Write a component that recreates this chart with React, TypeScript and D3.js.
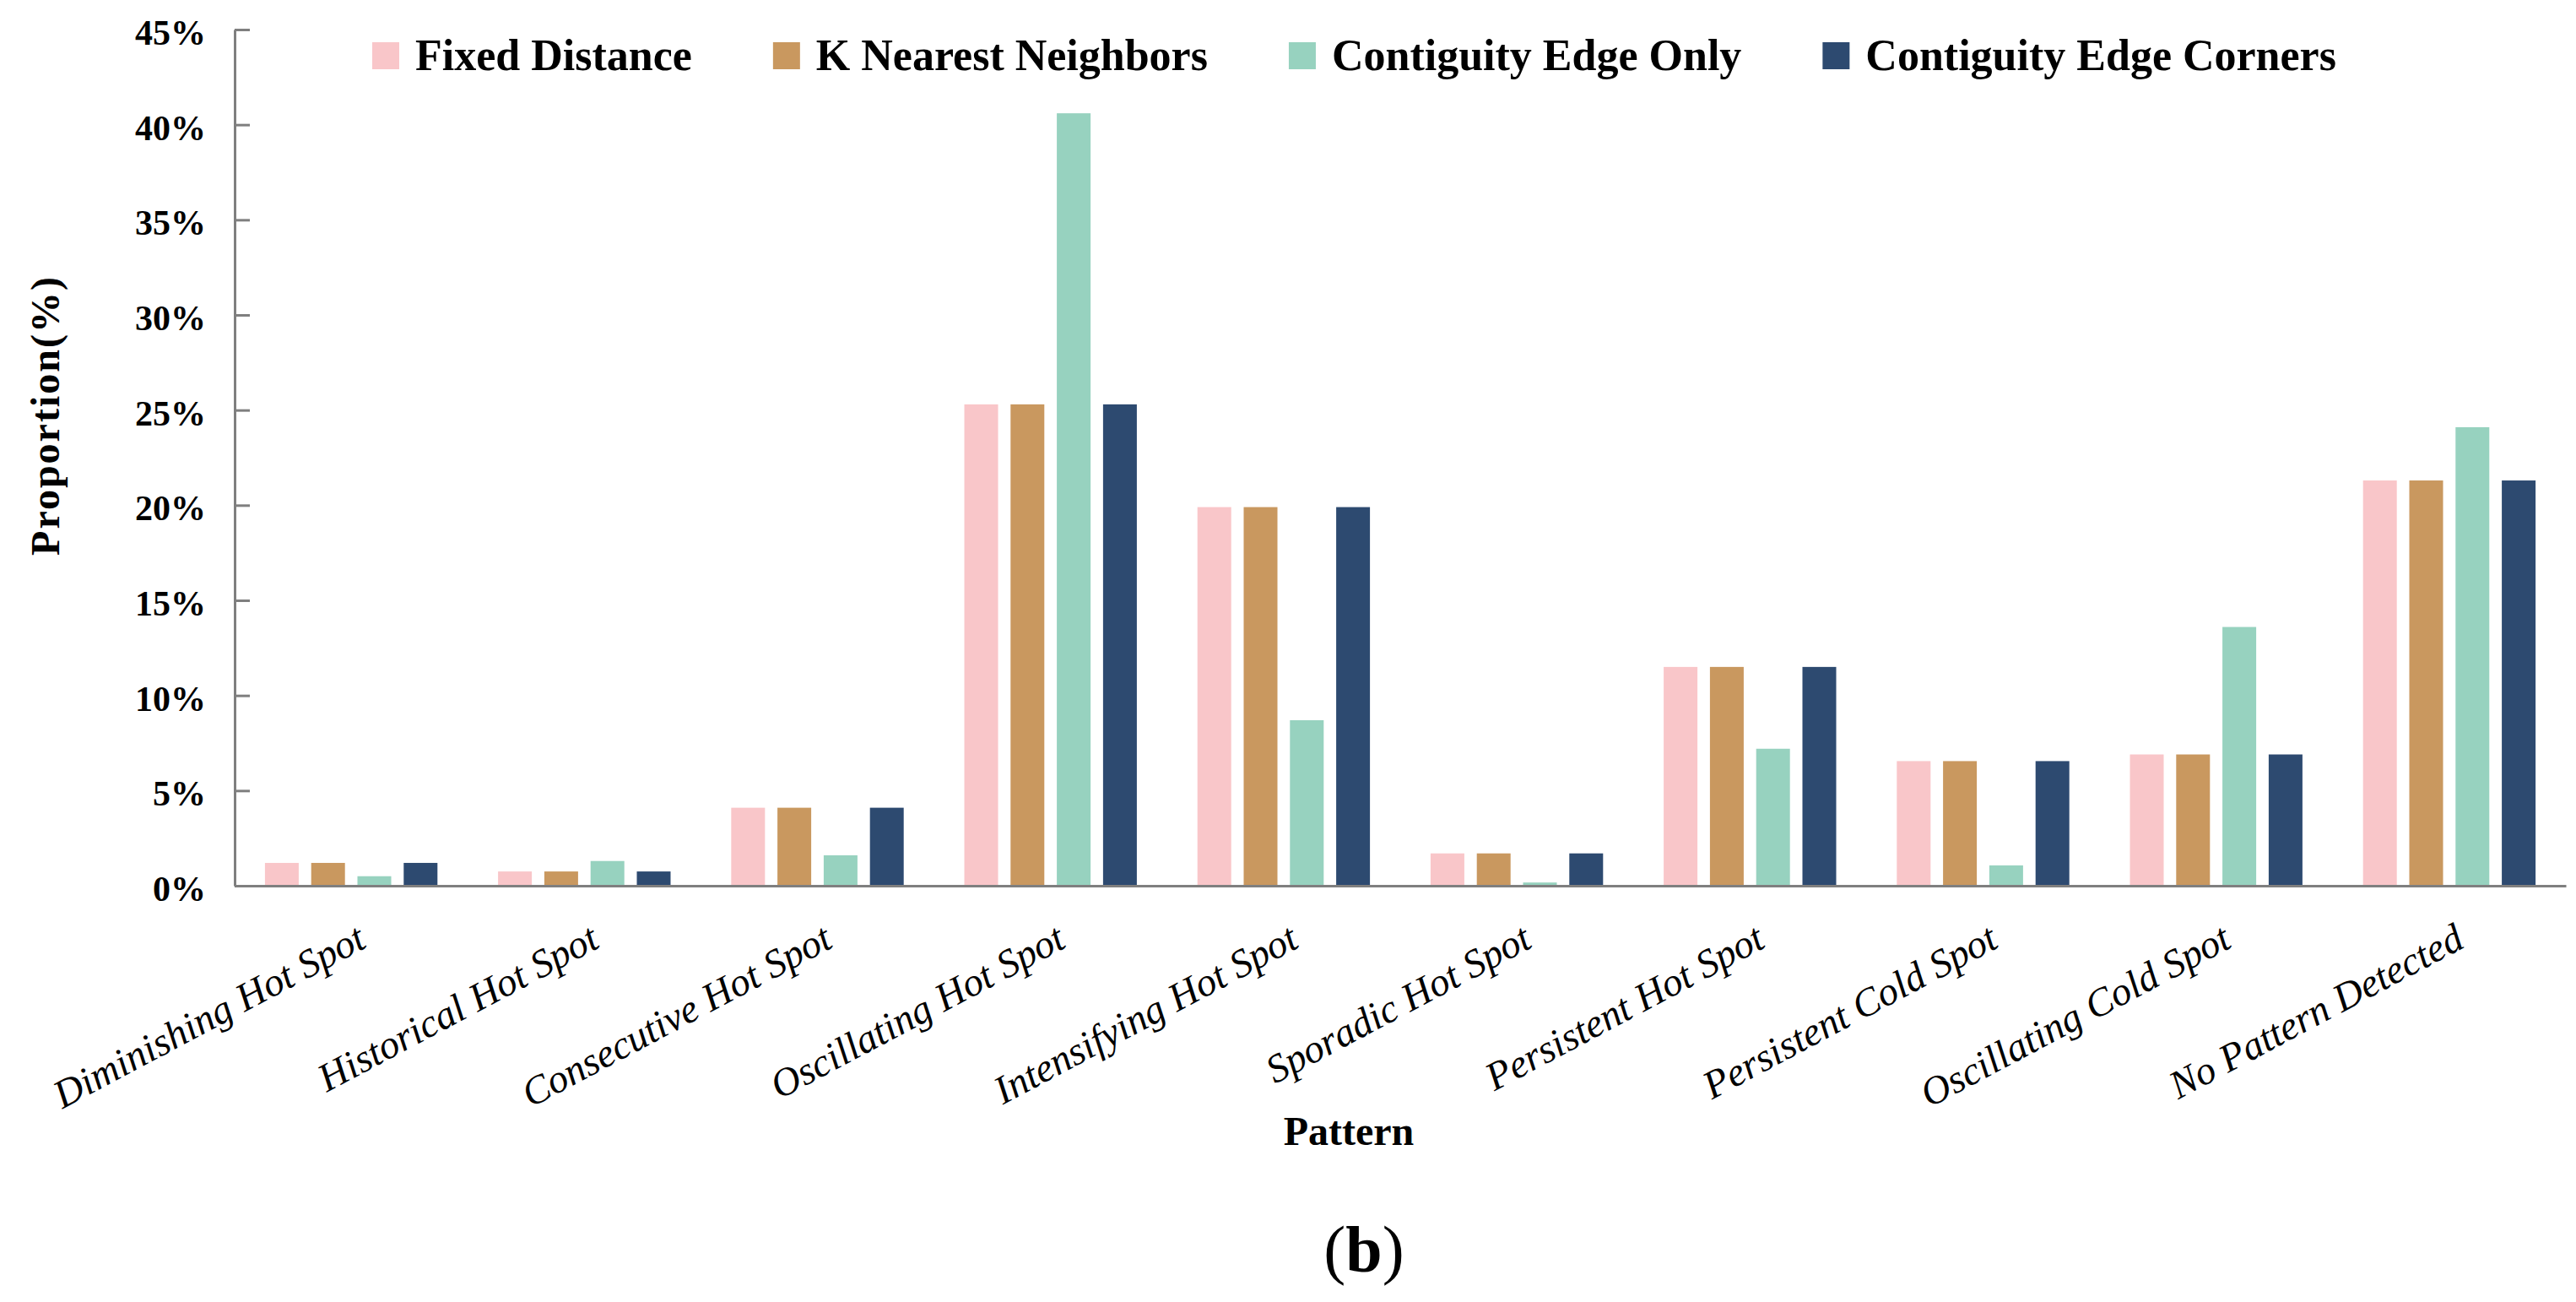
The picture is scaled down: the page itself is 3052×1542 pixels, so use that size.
import { useEffect, useRef } from 'react';
import * as d3 from 'd3';

const categories = [
  'Diminishing Hot Spot',
  'Historical Hot Spot',
  'Consecutive Hot Spot',
  'Oscillating Hot Spot',
  'Intensifying Hot Spot',
  'Sporadic Hot Spot',
  'Persistent Hot Spot',
  'Persistent Cold Spot',
  'Oscillating Cold Spot',
  'No Pattern Detected',
];

const seriesNames = [
  'Fixed Distance',
  'K Nearest Neighbors',
  'Contiguity Edge Only',
  'Contiguity Edge Corners',
];

const fixedDistance = [1.2, 0.75, 4.1, 25.3, 19.9, 1.7, 11.5, 6.55, 6.9, 21.3];
const kNearest = [1.2, 0.75, 4.1, 25.3, 19.9, 1.7, 11.5, 6.55, 6.9, 21.3];
const edgeOnly = [0.5, 1.3, 1.6, 40.6, 8.7, 0.17, 7.2, 1.07, 13.6, 24.1];
const edgeCorners = [1.2, 0.75, 4.1, 25.3, 19.9, 1.7, 11.5, 6.55, 6.9, 21.3];

const yTicks = [0, 5, 10, 15, 20, 25, 30, 35, 40, 45];
const colors = ['#F9C6C9', '#C9985F', '#97D2BF', '#2D4A70'];

const W = 3052;
const H = 1542;
const FONT = '"Liberation Serif", "Times New Roman", serif';

export default function App() {
  const svgRef = useRef<SVGSVGElement>(null);

  useEffect(() => {
    if (!svgRef.current) return;
    const svg = d3.select(svgRef.current);
    svg.selectAll('*').remove();

    const left = 278, right = 3040, top = 35, bottom = 1049;
    const values = [fixedDistance, kNearest, edgeOnly, edgeCorners];

    const x0 = d3.scaleBand<string>()
      .domain(categories)
      .range([left, right])
      .paddingInner(0.26)
      .paddingOuter(0.13);

    const x1 = d3.scaleBand<string>()
      .domain(seriesNames)
      .range([0, x0.bandwidth()])
      .paddingInner(0.27)
      .paddingOuter(0);

    const y = d3.scaleLinear().domain([0, 45]).range([bottom, top]);
    const color = d3.scaleOrdinal<string, string>().domain(seriesNames).range(colors);

    // bars
    const groups = svg.append('g')
      .selectAll('g')
      .data(categories)
      .join('g')
      .attr('transform', d => `translate(${x0(d)},0)`);

    groups.selectAll('rect')
      .data((_, i) => seriesNames.map((s, j) => ({ s, v: values[j][i] })))
      .join('rect')
      .attr('x', d => x1(d.s) || 0)
      .attr('width', x1.bandwidth())
      .attr('y', d => y(d.v))
      .attr('height', d => y(0) - y(d.v))
      .attr('fill', d => color(d.s));

    // y axis
    const yAxis = svg.append('g')
      .attr('transform', `translate(${left},0)`)
      .call(d3.axisLeft(y).tickValues(yTicks).tickSizeInner(-18).tickSizeOuter(0).tickPadding(34)
        .tickFormat(d => `${d}%`));
    yAxis.select('.domain').attr('stroke', '#7f7f7f').attr('stroke-width', 3);
    yAxis.selectAll('.tick line').attr('stroke', '#7f7f7f').attr('stroke-width', 3);
    yAxis.selectAll('.tick text')
      .attr('font-family', FONT)
      .attr('font-weight', 'bold')
      .attr('font-size', 42)
      .attr('fill', '#000')
      .attr('dy', '0.42em');

    // x axis line
    const xAxis = svg.append('g')
      .attr('transform', `translate(0,${bottom})`)
      .call(d3.axisBottom(x0).tickSize(0).tickFormat(() => ''));
    xAxis.select('.domain').attr('stroke', '#7f7f7f').attr('stroke-width', 3);

    // x tick labels
    svg.append('g')
      .selectAll('text')
      .data(categories)
      .join('text')
      .attr('transform', d => `translate(${(x0(d) || 0) + x0.bandwidth() / 2 + 20},${bottom + 72}) rotate(-28)`)
      .attr('text-anchor', 'end')
      .attr('font-family', FONT)
      .attr('font-style', 'italic')
      .attr('font-size', 47)
      .attr('fill', '#000')
      .text(d => d);

    // axis titles
    svg.append('text')
      .attr('transform', `translate(70,${(top + bottom) / 2 - 50}) rotate(-90)`)
      .attr('text-anchor', 'middle')
      .attr('font-family', FONT)
      .attr('font-weight', 'bold')
      .attr('font-size', 48)
      .attr('letter-spacing', 2)
      .text('Proportion(%)');

    svg.append('text')
      .attr('x', 1598)
      .attr('y', 1356)
      .attr('text-anchor', 'middle')
      .attr('font-family', FONT)
      .attr('font-weight', 'bold')
      .attr('font-size', 48)
      .text('Pattern');

    const cap = svg.append('text')
      .attr('x', 1616)
      .attr('y', 1506)
      .attr('text-anchor', 'middle')
      .attr('font-family', FONT)
      .attr('font-size', 78);
    cap.append('tspan').text('(');
    cap.append('tspan').attr('font-weight', 'bold').text('b');
    cap.append('tspan').text(')');

    // legend
    const legend = svg.append('g').attr('transform', 'translate(441,50)');
    let lx = 0;
    seriesNames.forEach(name => {
      const item = legend.append('g').attr('transform', `translate(${lx},0)`);
      item.append('rect').attr('width', 32).attr('height', 32).attr('fill', color(name));
      const t = item.append('text')
        .attr('x', 51)
        .attr('y', 33)
        .attr('font-family', FONT)
        .attr('font-weight', 'bold')
        .attr('font-size', 52)
        .text(name);
      const w = (t.node() as SVGTextElement).getComputedTextLength();
      lx += 51 + w + 96;
    });
  }, []);

  return (
    <svg
      ref={svgRef}
      width={W}
      height={H}
      style={{ position: 'absolute', top: 0, left: 0, background: '#fff', display: 'block' }}
    />
  );
}
